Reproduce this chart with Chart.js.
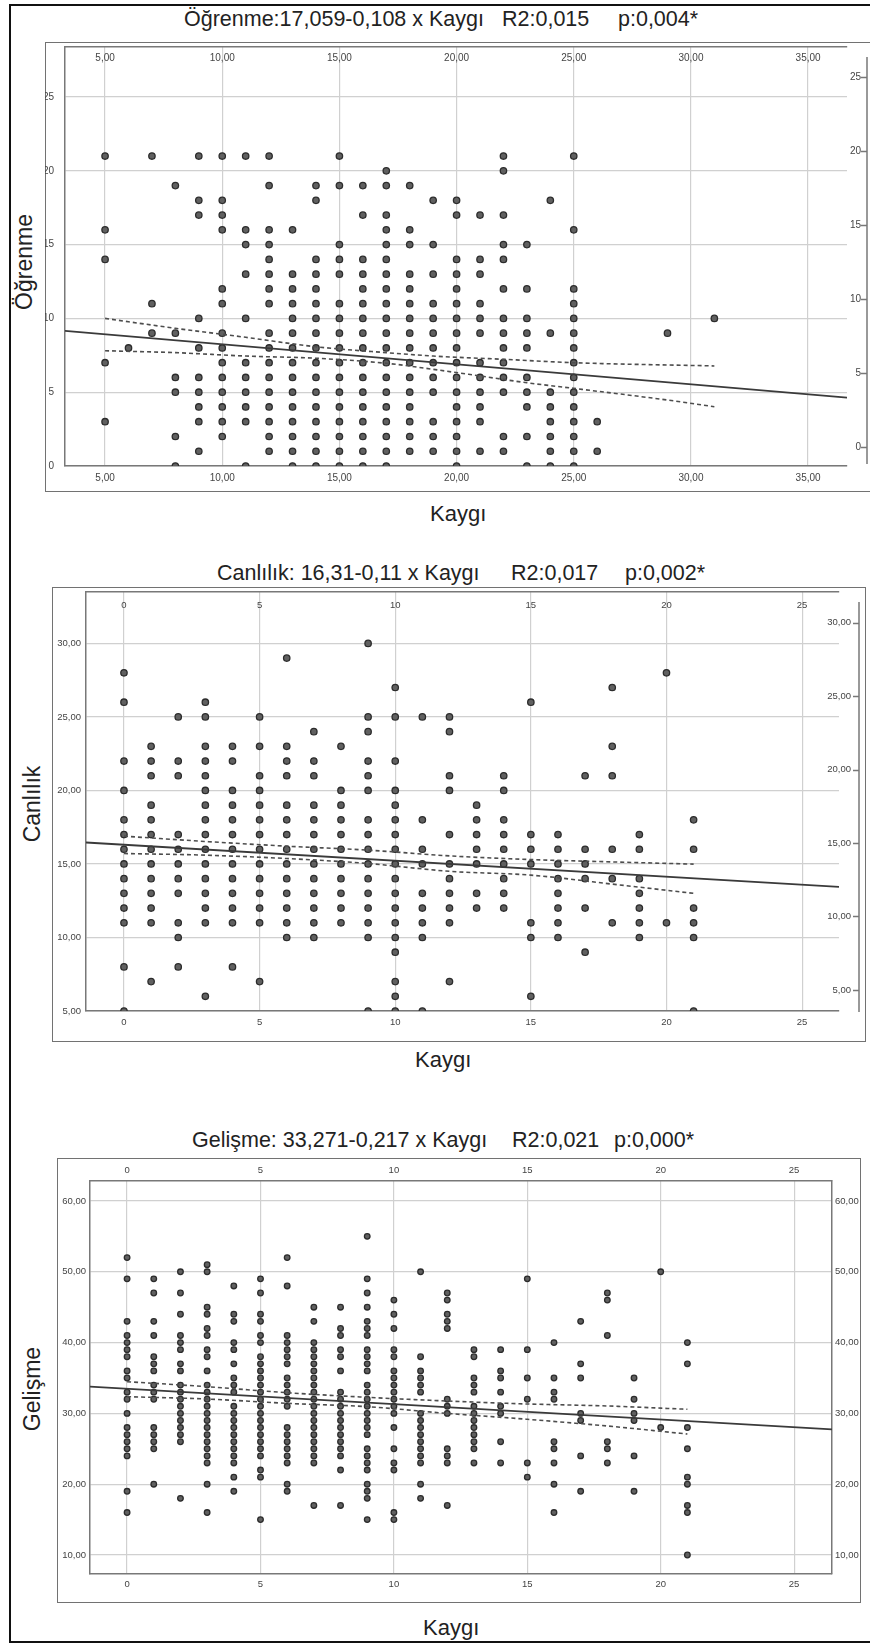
<!DOCTYPE html>
<html>
<head>
<meta charset="utf-8">
<script src="https://cdn.jsdelivr.net/npm/chart.js@4.4.1/dist/chart.umd.min.js"></script>
<style>
  html, body { margin: 0; padding: 0; background: #fff; }
  #page { position: relative; width: 870px; height: 1643px; overflow: hidden; background: #fff;
          font-family: "Liberation Sans", Arial, sans-serif; color: #222; }
  .edge { position: absolute; left: 9px; top: 4px; width: 870px; height: 1639px; box-sizing: border-box;
          border-left: 2px solid #111; border-top: 2px solid #111; border-bottom: 2px solid #111; }
  .frame { position: absolute; box-sizing: border-box; border: 1.5px solid #727272; }
  canvas { position: absolute; }
  .t { position: absolute; font-size: 21.5px; line-height: 24px; white-space: pre; }
  .k { position: absolute; font-size: 22px; line-height: 24px; white-space: pre; }
  .yt { position: absolute; width: 140px; height: 26px; line-height: 26px; font-size: 23px;
        text-align: center; transform: rotate(-90deg); white-space: pre; }
</style>
</head>
<body>
<div id="page">
  <div class="edge"></div>

  <div class="frame" style="left:45px; top:42px; width:830px; height:450px;"></div>
  <div class="frame" style="left:52px; top:587px; width:814px; height:455px;"></div>
  <div class="frame" style="left:57px; top:1158px; width:804px; height:445px;"></div>

  <span class="t" style="left:184px; top:7px;">Öğrenme:17,059-0,108 x Kaygı</span>
  <span class="t" style="left:502px; top:7px;">R2:0,015</span>
  <span class="t" style="left:618px; top:7px;">p:0,004*</span>

  <span class="t" style="left:217px; top:561px;">Canlılık: 16,31-0,11 x Kaygı</span>
  <span class="t" style="left:511px; top:561px;">R2:0,017</span>
  <span class="t" style="left:625px; top:561px;">p:0,002*</span>

  <span class="t" style="left:192px; top:1128px;">Gelişme: 33,271-0,217 x Kaygı</span>
  <span class="t" style="left:512px; top:1128px;">R2:0,021</span>
  <span class="t" style="left:614px; top:1128px;">p:0,000*</span>

  <span class="k" style="left:430px; top:502px;">Kaygı</span>
  <span class="k" style="left:415px; top:1048px;">Kaygı</span>
  <span class="k" style="left:423px; top:1616px;">Kaygı</span>

  <div class="yt" style="left:-46px; top:249px;">Öğrenme</div>
  <div class="yt" style="left:-38px; top:791px;">Canlılık</div>
  <div class="yt" style="left:-38px; top:1376px;">Gelişme</div>

  <canvas id="c1" width="825" height="449" style="left:45px; top:42px;"></canvas>
  <canvas id="c2" width="813" height="454" style="left:52px; top:587px;"></canvas>
  <canvas id="c3" width="803" height="444" style="left:57px; top:1158px;"></canvas>
</div>

<script>
// ---- Öğrenme x Kaygı : each Öğrenme level with the Kaygı scores seen on that row
const ogrenmeLevels = [21, 20, 19, 18, 17, 16, 15, 14, 13, 12, 11, 10, 9, 8, 7, 6, 5, 4, 3, 2, 1, 0];
const ogrenmeKaygi = [
  [5, 7, 9, 10, 11, 12, 15, 22, 25],
  [17, 22],
  [8, 12, 14, 15, 16, 17, 18],
  [9, 10, 14, 19, 20, 24],
  [9, 10, 16, 17, 20, 21, 22],
  [5, 10, 11, 12, 13, 17, 18, 25],
  [11, 12, 15, 17, 18, 19, 22, 23],
  [5, 12, 14, 15, 16, 17, 20, 21, 22],
  [11, 12, 13, 14, 15, 16, 17, 18, 19, 20, 21],
  [10, 12, 13, 14, 16, 17, 18, 20, 22, 23, 25],
  [7, 10, 12, 13, 14, 15, 16, 17, 18, 19, 20, 21, 25],
  [9, 11, 13, 14, 15, 16, 17, 18, 19, 20, 21, 22, 23, 25, 31],
  [7, 8, 10, 12, 13, 14, 15, 16, 17, 18, 19, 20, 21, 22, 23, 24, 25, 29],
  [6, 9, 10, 12, 13, 14, 15, 16, 17, 18, 19, 20, 22, 23, 25],
  [5, 10, 11, 12, 13, 14, 15, 16, 17, 18, 19, 20, 21, 22, 25],
  [8, 9, 10, 11, 12, 13, 14, 15, 16, 17, 18, 19, 20, 21, 22, 23, 25],
  [8, 9, 10, 11, 12, 13, 14, 15, 16, 17, 18, 19, 20, 21, 22, 23, 24, 25],
  [9, 10, 11, 12, 13, 14, 15, 16, 17, 18, 20, 21, 23, 24, 25],
  [5, 9, 10, 11, 12, 13, 14, 15, 16, 17, 18, 19, 20, 21, 24, 25, 26],
  [8, 10, 12, 13, 14, 15, 16, 17, 18, 19, 20, 22, 23, 24, 25],
  [9, 12, 13, 14, 15, 16, 17, 18, 19, 20, 21, 22, 24, 25, 26],
  [8, 11, 13, 14, 15, 16, 17, 20, 23, 24, 25]
];
const ogrenmeFitX = [3.29, 36.66];
const ogrenmeFitY = [9.15, 4.63];
const ogrenmeUpperX = [5, 8, 11, 14, 17, 19, 22, 25, 31];
const ogrenmeUpperY = [10.0, 9.33, 8.72, 8.08, 7.68, 7.45, 7.23, 7.0, 6.78];
const ogrenmeLowerX = [5, 8, 11, 14, 17, 19, 21, 23, 25, 29, 31];
const ogrenmeLowerY = [7.81, 7.68, 7.45, 7.3, 6.96, 6.55, 6.1, 5.64, 5.26, 4.47, 4.02];

// ---- Canlılık x Kaygı : each Kaygı score with its Canlılık values
const canlilikKaygi = [0, 1, 2, 3, 4, 5, 6, 7, 8, 9, 10, 11, 12, 13, 14, 15, 16, 17, 18, 19, 20, 21];
const canlilikVals = [
  [28, 26, 22, 20, 18, 17, 16, 15, 14, 13, 12, 11, 8, 5],
  [23, 22, 21, 19, 18, 17, 16, 15, 14, 13, 12, 11, 7],
  [25, 22, 21, 17, 16, 15, 14, 13, 11, 10, 8],
  [26, 25, 23, 22, 21, 20, 19, 18, 17, 16, 15, 14, 13, 12, 11, 6],
  [23, 22, 20, 19, 18, 17, 16, 15, 14, 13, 12, 11, 8],
  [25, 23, 21, 20, 19, 18, 17, 16, 15, 14, 13, 12, 11, 7],
  [29, 23, 22, 21, 19, 18, 17, 16, 15, 14, 13, 12, 11, 10],
  [24, 22, 21, 19, 18, 17, 16, 15, 14, 13, 12, 11, 10],
  [23, 20, 19, 18, 17, 16, 15, 14, 13, 12, 11],
  [30, 25, 24, 22, 21, 20, 18, 17, 16, 15, 14, 13, 12, 11, 10, 5],
  [27, 25, 22, 20, 19, 18, 17, 16, 15, 14, 13, 12, 11, 10, 9, 7, 6, 5],
  [25, 18, 16, 15, 13, 12, 11, 10, 5],
  [25, 24, 21, 20, 17, 15, 14, 13, 12, 11, 7],
  [19, 18, 17, 16, 15, 13, 12],
  [21, 20, 18, 17, 16, 15, 14, 13, 12],
  [26, 17, 16, 15, 11, 10, 6],
  [17, 16, 15, 14, 13, 12, 11, 10],
  [21, 16, 15, 14, 12, 9],
  [27, 23, 21, 16, 14, 11],
  [17, 16, 14, 13, 12, 11, 10],
  [28, 11],
  [18, 16, 12, 11, 10, 5]
];
const canlilikFitX = [-1.4, 26.36];
const canlilikFitY = [16.46, 13.44];
const canlilikBandX = [0, 3, 6, 9, 12, 15, 18, 21];
const canlilikUpperY = [16.89, 16.53, 16.21, 15.94, 15.55, 15.3, 15.14, 14.99];
const canlilikLowerY = [15.71, 15.6, 15.37, 15.03, 14.5, 14.24, 13.63, 13.0];

// ---- Gelişme x Kaygı
const gelismeKaygi = [0, 1, 2, 3, 4, 5, 6, 7, 8, 9, 10, 11, 12, 13, 14, 15, 16, 17, 18, 19, 20, 21];
const gelismeVals = [
  [52, 49, 43, 41, 40, 39, 38, 36, 35, 33, 32, 30, 28, 27, 26, 25, 24, 19, 16],
  [49, 47, 43, 41, 38, 37, 36, 34, 33, 32, 28, 27, 26, 25, 20],
  [50, 47, 44, 41, 40, 39, 37, 36, 34, 33, 32, 31, 30, 29, 28, 27, 26, 18],
  [51, 50, 45, 44, 42, 41, 39, 38, 36, 34, 33, 32, 31, 30, 29, 28, 27, 26, 25, 24, 23, 20, 16],
  [48, 44, 43, 40, 39, 37, 35, 34, 33, 31, 30, 29, 28, 27, 26, 25, 24, 23, 21, 19],
  [49, 47, 44, 43, 41, 40, 38, 37, 36, 35, 34, 33, 32, 31, 30, 29, 28, 27, 26, 25, 24, 22, 21, 15],
  [52, 48, 41, 40, 39, 38, 37, 35, 34, 33, 32, 31, 28, 27, 26, 25, 24, 23, 20, 19],
  [45, 43, 40, 39, 38, 37, 36, 35, 34, 33, 32, 31, 30, 29, 28, 27, 26, 25, 24, 23, 17],
  [45, 42, 41, 39, 38, 36, 33, 32, 31, 30, 29, 28, 27, 26, 25, 24, 22, 17],
  [55, 49, 47, 45, 43, 42, 41, 39, 38, 37, 36, 34, 33, 32, 31, 30, 29, 28, 27, 25, 24, 23, 22, 20, 19, 18, 15],
  [46, 44, 42, 39, 38, 36, 35, 34, 33, 32, 31, 30, 28, 25, 23, 22, 16, 15],
  [50, 38, 36, 35, 34, 33, 30, 29, 28, 27, 26, 25, 24, 23, 20, 18],
  [47, 46, 44, 43, 42, 32, 31, 30, 25, 24, 23, 17],
  [39, 38, 35, 34, 33, 31, 30, 29, 28, 27, 26, 25, 23],
  [39, 36, 35, 33, 31, 30, 26, 23],
  [49, 39, 35, 32, 23, 21],
  [40, 35, 33, 32, 26, 25, 23, 20, 16],
  [43, 37, 35, 30, 29, 24, 19],
  [47, 46, 41, 26, 25, 23],
  [35, 32, 30, 29, 24, 19],
  [50, 28],
  [40, 37, 28, 25, 21, 20, 17, 16, 10]
];
const gelismeFitX = [-1.39, 26.42];
const gelismeFitY = [33.77, 27.75];
const gelismeBandX = [0, 3, 6, 9, 12, 15, 18, 21];
const gelismeUpperY = [34.48, 33.77, 32.92, 32.27, 31.75, 31.33, 31.05, 30.58];
const gelismeLowerY = [32.36, 32.03, 31.42, 30.95, 30.0, 29.17, 28.22, 27.09];

// ---- styling
const gridCol = "#d0d0d0";
const axisCol = "#787878";
const tickCol = "#444444";
Chart.defaults.font.family = '"Liberation Sans", Arial, sans-serif';
Chart.defaults.animation = false;

function pointsFrom(keys, lists, keyIsX) {
  const pts = [];
  keys.forEach((k, i) => lists[i].forEach(v => pts.push(keyIsX ? { x: k, y: v } : { x: v, y: k })));
  return pts;
}
function pairs(xs, ys) {
  return xs.map((x, i) => ({ x: x, y: ys[i] }));
}
function fitBox(size) {
  return s => {
    if (s.isHorizontal()) s.height = size; else s.width = size;
    s.paddingLeft = s.paddingRight = s.paddingTop = s.paddingBottom = 0;
  };
}
function fmt(dec) {
  return v => dec ? v.toFixed(dec).replace(".", ",") : String(v);
}
function scale(position, min, max, step, size, o) {
  return {
    type: "linear", position: position, min: min, max: max,
    afterFit: fitBox(size),
    ticks: Object.assign({
      stepSize: step, includeBounds: false, color: tickCol, font: { size: o.font },
      callback: fmt(o.dec), padding: o.pad, maxRotation: 0, autoSkip: false
    }, o.ticks || {}),
    grid: { display: !!o.grid, color: gridCol, lineWidth: 1.2, drawTicks: false },
    border: { display: o.border !== false, color: axisCol, width: 1.5 }
  };
}

// right axis that SPSS draws a little away from the plot
const sideAxis = {
  id: "sideAxis",
  afterDraw(chart, args, opts) {
    const s = chart.scales.y2;
    if (!opts.x || !s) return;
    const ctx = chart.ctx;
    ctx.save();
    ctx.strokeStyle = axisCol;
    ctx.lineWidth = 1.5;
    ctx.beginPath();
    ctx.moveTo(opts.x, opts.top);
    ctx.lineTo(opts.x, opts.bottom);
    s.ticks.forEach(t => {
      const y = Math.round(s.getPixelForValue(t.value)) + 0.5;
      ctx.moveTo(opts.x - 6, y);
      ctx.lineTo(opts.x, y);
    });
    ctx.stroke();
    ctx.restore();
  }
};

function lineSets(fitX, fitY, upX, upY, loX, loY) {
  const base = { showLine: true, pointRadius: 0, order: 0, fill: false };
  const band = { borderWidth: 1.6, borderDash: [4, 3], cubicInterpolationMode: "monotone", borderColor: "#4d4d4d" };
  return [
    Object.assign({}, base, { data: pairs(fitX, fitY), borderWidth: 1.8, borderColor: "#3a3a3a" }),
    Object.assign({}, base, band, { data: pairs(upX, upY) }),
    Object.assign({}, base, band, { data: pairs(loX, loY) })
  ];
}
function dotSet(points, r) {
  return {
    data: points, order: 1, pointRadius: r, pointHoverRadius: r,
    backgroundColor: "#606060", borderColor: "#2c2c2c", borderWidth: 1.3
  };
}
const common = {
  responsive: false,
  animation: false,
  events: [],
  plugins: { legend: { display: false }, tooltip: { enabled: false } }
};

// Chart 1: Öğrenme
new Chart(document.getElementById("c1"), {
  type: "scatter",
  data: {
    datasets: lineSets(ogrenmeFitX, ogrenmeFitY, ogrenmeUpperX, ogrenmeUpperY, ogrenmeLowerX, ogrenmeLowerY)
      .concat([dotSet(pointsFrom(ogrenmeLevels, ogrenmeKaygi, false), 3.2)])
  },
  options: Object.assign({}, common, {
    layout: { padding: { left: 0, top: 0, right: 10, bottom: 0 } },
    plugins: Object.assign({}, common.plugins, { sideAxis: { x: 822, top: 15, bottom: 422 } }),
    scales: {
      x: scale("bottom", 3.29, 36.66, 5, 25, { font: 10, dec: 2, pad: 6, grid: true }),
      x2: scale("top", 3.29, 36.66, 5, 5, { font: 10, dec: 2, pad: 5, ticks: { mirror: true } }),
      y: scale("left", 0, 28.39, 5, 20, { font: 10, dec: 0, pad: 11, grid: true }),
      y2: scale("right", -1.28, 27.03, 5, 13, { font: 10, dec: 0, pad: 14, border: false, ticks: { mirror: true } })
    }
  }),
  plugins: [sideAxis]
});

// Chart 2: Canlılık
new Chart(document.getElementById("c2"), {
  type: "scatter",
  data: {
    datasets: lineSets(canlilikFitX, canlilikFitY, canlilikBandX, canlilikUpperY, canlilikBandX, canlilikLowerY)
      .concat([dotSet(pointsFrom(canlilikKaygi, canlilikVals, true), 3.2)])
  },
  options: Object.assign({}, common, {
    layout: { padding: { left: 0, top: 0, right: 15, bottom: 0 } },
    plugins: Object.assign({}, common.plugins, { sideAxis: { x: 807, top: 15, bottom: 425 } }),
    scales: {
      x: scale("bottom", -1.4, 26.36, 5, 30, { font: 9.5, dec: 0, pad: 6, grid: true }),
      x2: scale("top", -1.4, 26.36, 5, 4, { font: 9.5, dec: 0, pad: 8, ticks: { mirror: true } }),
      y: scale("left", 5, 33.53, 5, 34, { font: 9.5, dec: 2, pad: 5, grid: true }),
      y2: scale("right", 3.57, 32.11, 5, 11, { font: 9.5, dec: 2, pad: 12, border: false, ticks: { mirror: true } })
    }
  }),
  plugins: [sideAxis]
});

// Chart 3: Gelişme
new Chart(document.getElementById("c3"), {
  type: "scatter",
  data: {
    datasets: lineSets(gelismeFitX, gelismeFitY, gelismeBandX, gelismeUpperY, gelismeBandX, gelismeLowerY)
      .concat([dotSet(pointsFrom(gelismeKaygi, gelismeVals, true), 2.8)])
  },
  options: Object.assign({}, common, {
    layout: { padding: 0 },
    scales: {
      x: scale("bottom", -1.39, 26.42, 5, 28, { font: 9.5, dec: 0, pad: 5, grid: true }),
      x2: scale("top", -1.39, 26.42, 5, 23, { font: 9.5, dec: 0, pad: 5 }),
      y: scale("left", 7.32, 62.82, 10, 33, { font: 9.5, dec: 2, pad: 4, grid: true }),
      y2: scale("right", 7.32, 62.82, 10, 28, { font: 9.5, dec: 2, pad: 3 })
    }
  })
});
</script>
</body>
</html>
